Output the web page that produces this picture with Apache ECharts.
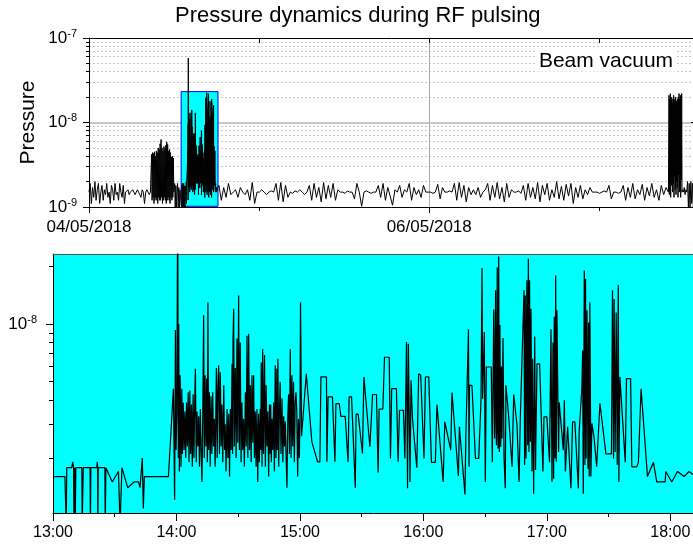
<!DOCTYPE html>
<html><head><meta charset="utf-8">
<script src="https://cdn.jsdelivr.net/npm/echarts@6/dist/echarts.min.js"></script>
<style>html,body{margin:0;padding:0;background:#fff}#c{width:693px;height:545px}</style>
</head><body><div id="c"></div>
<script>
// ---------------- DATA (pressure values in units of 1e-9) ----------------
const titleText = 'Pressure dynamics during RF pulsing';
const panelNote = 'Beam vacuum';
const yName = 'Pressure';

// overview axis ticks
const overviewTickDays = ['2018-05-04T00:00', '2018-05-05T00:00', '2018-05-06T00:00', '2018-05-07T00:00'];
const overviewLabelDays = ['2018-05-04T00:00', '2018-05-06T00:00'];
const overviewMinorDays = ['2018-05-05T00:00', '2018-05-07T00:00'];
const overviewRange = ['2018-05-04T00:00', '2018-05-07T13:30'];
const overviewMajorNano = [1, 10, 100];
const overviewMinorNano = [2, 3, 4, 5, 6, 7, 8, 9, 20, 30, 40, 50, 60, 70, 80, 90];
const overviewYRangeNano = [1, 100.001];

// zoom (RF pulsing window) axis ticks
const zoomDay = '2018-05-04';
const zoomHourTicks = ['13:00', '14:00', '15:00', '16:00', '17:00', '18:00'];
const zoomHalfTicks = ['13:30', '14:30', '15:30', '16:30', '17:30'];
const zoomRange = ['13:00', '18:12'];
const zoomMajorNano = [10];
const zoomMinorNano = [2, 3, 4, 5, 6, 7, 8, 9, 20];
const zoomYRangeNano = [1.033, 23.2];

// overview logger segments (evenly sampled between the span times)
const segA1Span = ['2018-05-04T00:00', '2018-05-04T08:40'];
const segA1 = [1.5,1.9,1.1,1.7,1.3,2.0,1.2,1.6,1.9,1.1,1.5,1.8,1.2,1.6,1.4,1.9,1.3,1.5,1.1,1.8,1.6,1.2,1.9,1.4,1.5,1.2,1.9,1.5,1.3,1.8,1.1,
  1.5,1.5,1.6,1.4,1.5,1.5,1.6,1.5,1.4,1.5,1.6,1.5,1.5,1.3,1.6,1.5,1.1,1.5,1.6,1.5,1.4,1.5];
const segA2Span = ['2018-05-04T08:50', '2018-05-04T11:58'];
const segA2 = [4.2,1.2,4.4,1.3,4.3,1.1,4.5,1.2,4.0,1.3,4.6,1.2,4.4,1.1,5.0,1.3,4.8,1.2,5.6,1.2,6.3,1.3,5.0,1.1,4.6,1.2,5.2,1.3,4.9,1.2,5.4,1.1,5.9,1.2,5.5,1.3,4.6,1.2,4.8,1.1,4.4,1.3,3.9,1.2,4.0,1.3,3.8,1.5];
const segA3Span = ['2018-05-04T12:00', '2018-05-04T12:55'];
const segA3 = [1.5,1.9,1.0,1.8,1.0,1.6,1.9,1.0,1.7,1.0,1.6,1.6];
const segC1Span = ['2018-05-04T18:20', '2018-05-07T09:45'];
const segC1 = [1.8,1.2,1.7,1.3,1.9,1.4,
  1.5,1.6,1.3,1.7,1.5,1.4,1.6,1.2,1.95,1.1,
  1.5,1.5,1.6,1.5,1.4,1.5,1.55,1.5,
  1.9,1.2,1.95,1.15,1.8,1.3,
  1.5,1.45,1.55,1.5,1.6,1.5,1.4,1.5,
  1.8,1.2,1.9,1.3,1.7,1.15,1.95,1.25,1.8,1.3,1.9,1.2,1.6,
  1.5,1.5,1.45,1.55,1.5,1.5,
  1.25,1.9,1.5,1.02,
  1.5,1.55,1.5,1.45,1.5,1.5,
  1.8,1.3,1.9,1.2,1.7,1.35,1.05,1.6,
  1.5,1.8,1.3,1.6,1.5,1.9,1.2,1.7,1.4,1.6,1.3,1.8,1.5,
  1.5,1.5,1.45,1.5,
  1.85,1.25,1.7,1.5,
  1.5,1.55,1.5,
  1.9,1.2,1.95,1.3,1.8,1.15,1.7,1.4,
  1.6,1.4,1.7,1.3,1.5,1.6,
  1.9,1.2,1.8,1.3,1.95,1.25,1.7,1.15,1.9,1.3,1.6,
  1.5,1.5,1.55,1.45,
  1.8,1.2,1.9,1.3,1.7,1.25,1.95,1.15,1.8,1.4,1.9,1.2,1.6,1.3,2.0,1.25,1.75,1.2,1.85,1.35,1.9,1.1,1.7,1.3,1.8,1.25,1.6,1.4,1.7,1.5,
  1.5,1.5,1.45,1.5,1.55,1.5,1.8,1.25,1.5,1.5,1.45,1.5,
  1.8,1.2,1.7,1.3,1.9,1.25,1.6,1.4,1.85,1.2,1.7,1.35,1.9,1.3,1.6,1.2,1.8,1.4,1.7,1.5];
const segC2Span = ['2018-05-07T09:50', '2018-05-07T11:40'];
const segC2 = [21,1.4,19,2.2,22,1.3,18,1.8,20,2.5,17,1.5,19,1.9,21,1.3,18,2.3,19,1.6,20,1.4,18,2.0,17,1.7,19,1.3,20,2.4,22,1.5,19,1.8,21,1.3,18,2.1,22,1.5];
const segC3Span = ['2018-05-07T11:45', '2018-05-07T13:30'];
const segC3 = [1.6,1.5,1.7,1.4,1.6,1.5,2.0,1.0,1.9,1.0,2.0,1.1,1.9,1.0,1.8,1.2];

// RF pulsing window readings: [minutes after 13:00, pressure x1e-9]
const zoomReadings = [
[0,1.60],[5.8,1.60],[6.4,0.9],[6.7,1.78],[9.1,1.78],[9.6,1.91],[10.0,1.78],[10.2,0.9],[10.5,1.78],[10.8,0.9],[11.1,1.78],
[14.0,1.78],[14.2,0.9],[14.5,0.9],[14.7,1.78],[18.0,1.78],[18.2,0.9],[18.4,1.78],[21.3,1.78],[21.5,1.91],[21.7,1.78],[21.8,0.9],[22.0,1.78],
[25.2,1.78],[25.4,0.9],[25.7,1.78],[28.8,1.50],[31.8,1.70],[32.6,0.9],[33.2,0.9],[33.5,1.78],[36.3,1.40],[39.4,1.50],[41.6,1.50],[42.3,1.40],
[43.4,2.0],[43.9,1.09],[44.4,1.60],[56.1,1.60],[58.5,4.6],[59.1,1.21],
[59.5,9.3],[59.8,2.2],[60.2,3.4],[60.6,58],[60.9,2.0],[61.1,10.0],[61.4,1.7],[61.8,5.4],[62.2,1.8],[62.6,4.6],[62.9,2.1],[63.3,3.9],[63.7,2.2],
[64.1,3.5],[64.5,2.0],[64.9,3.9],[65.3,2.3],[65.7,4.4],[66.1,1.9],[66.5,4.5],[66.9,2.1],[67.3,3.8],[67.7,1.8],[68.1,4.3],[68.5,2.0],[68.9,4.1],
[69.2,5.85],[69.6,1.9],[70.0,3.5],[70.4,2.3],[70.8,3.3],[71.2,1.8],[71.6,3.6],[72.0,2.2],[72.4,1.5],[72.8,3.4],[73.2,11.1],[73.5,2.0],[73.9,5.4],
[74.3,2.3],[74.7,5.2],[75.0,1.9],[75.3,13.0],[75.6,2.2],[76.0,4.4],[76.4,1.8],[76.8,4.2],[77.2,2.1],[77.6,4.4],[78.0,2.3],[78.4,3.2],[78.8,1.8],
[79.1,3.2],[79.4,5.9],[79.8,2.0],[80.1,4.5],[80.5,6.1],[80.9,2.1],[81.3,5.6],[81.7,2.3],[82.1,3.8],[82.5,1.9],[83.0,4.8],[83.4,2.2],[83.7,3.0],
[84.1,1.7],[84.6,3.6],[85.0,2.0],[85.4,3.4],[85.8,1.6],[86.2,3.6],[86.6,2.2],[87.0,6.2],[87.3,2.1],[87.5,8.4],[87.8,12.0],[88.1,2.3],[88.6,5.9],
[89.0,2.0],[89.4,8.4],[89.8,2.4],[90.2,14.1],[90.6,2.2],[91.0,8.0],[91.4,1.9],[91.8,3.9],[92.2,2.2],[92.6,3.2],[93.0,1.8],[93.5,4.4],[93.9,2.3],
[94.3,8.7],[94.7,2.0],[95.1,8.9],[95.5,2.2],[95.9,4.8],[96.3,1.9],[96.7,5.4],[97.1,2.4],[97.5,5.4],[97.9,2.0],[98.3,3.5],[98.7,1.8],[99.1,3.6],
[99.5,1.5],[99.9,3.4],[100.3,1.9],[100.7,3.6],[101.0,2.2],[101.2,6.3],[101.6,1.8],[101.9,7.4],[102.3,2.1],[102.8,6.9],[103.2,1.8],[103.6,4.8],
[104.0,2.3],[104.4,3.5],[104.8,1.6],[105.2,3.8],[105.6,2.1],[105.8,3.8],[106.1,1.9],[106.4,3.2],[106.8,2.2],[107.2,3.9],[107.6,1.7],[108.0,6.1],
[108.4,2.0],[108.8,5.85],[109.0,2.2],[109.3,6.6],[109.7,1.8],[110.0,3.4],[110.4,5.0],[110.8,2.1],[111.3,4.1],[111.7,1.9],[112.1,3.3],[112.5,2.3],
[112.9,3.1],[113.3,2.0],[113.7,1.4],[114.1,3.3],[114.5,4.3],[114.9,2.1],[115.3,7.4],[115.7,2.0],[116.1,5.4],[116.5,2.3],[116.9,5.0],[117.3,1.9],
[117.7,3.9],[118.1,4.4],[118.5,3.4],[118.9,1.6],[119.3,3.2],[119.7,2.0],[120.0,3.0],
[120.3,13.0],[120.8,2.6],[123.1,5.5],[123.7,5.5],[125.8,2.43],[126.5,2.38],[128.6,1.91],[129.7,1.91],[130.2,5.3],[132.9,5.3],[133.1,1.91],
[133.7,4.17],[135.8,4.17],[137.0,1.91],[137.5,3.84],[139.1,3.84],[139.9,3.3],[142.0,3.3],[143.4,1.91],[143.9,4.17],[145.1,4.17],[146.9,1.40],
[147.3,3.39],[148.3,3.39],[150.4,2.11],[151.1,5.3],[154.0,2.29],[155.3,4.29],[157.2,4.29],[158.0,1.68],[158.5,3.6],[160.3,3.6],[161.1,6.71],
[163.4,6.71],[164.0,1.99],[164.6,4.6],[166.9,4.6],[167.7,1.91],[168.4,3.55],[170.3,3.55],[171.0,1.99],[171.8,8.06],[172.3,1.39],[172.7,7.9],
[173.5,1.5],[174.0,5.09],[174.7,3.21],[176.8,1.78],[177.7,5.51],[178.7,5.4],[180.3,1.99],[181.0,5.3],[182.6,5.3],[183.9,1.90],[185.8,1.90],
[186.6,3.8],[189.6,1.50],[190.4,3.09],[191.2,3.09],[193.3,2.20],[193.9,4.39],[194.6,4.39],[197.0,1.61],[197.5,2.91],[200.2,1.29],[200.6,2.48],
[201.9,9.38],[202.2,1.80],[202.4,4.79],[203.6,4.79],[205.3,1.99],[206.9,1.99],[208.0,4.0],[208.5,19.6],[208.8,4.08],[209.6,9.08],[210.1,1.50],
[210.6,5.97],[213.0,5.97],[213.5,1.90],[214.2,11.9],[214.6,2.53],[215.1,15.0],[215.3,3.0],[215.5,2.33],[215.9,19.8],[216.1,2.8],[216.3,2.24],
[216.6,22.5],[216.9,2.15],[217.2,9.9],[217.6,2.29],[217.9,6.0],[218.2,2.53],[218.7,8.45],[219.2,1.99],[219.8,1.39],[220.1,4.79],[221.4,3.34],
[223.1,1.80],[223.9,4.29],[225.5,2.97],[226.5,1.50],[227.1,3.21],[227.9,3.21],[228.9,15.0],[229.2,1.84],[229.5,14.1],[229.7,2.5],[229.9,1.99],
[230.1,9.0],[230.3,16.9],[230.7,2.33],[231.0,21.9],[231.3,2.15],[231.6,16.9],[232.0,2.43],[232.3,12.0],[232.6,3.0],[232.8,1.70],[233.1,6.6],
[233.6,1.30],[234.1,8.6],[234.5,1.73],[235.2,6.19],[236.5,6.19],[238.1,1.70],[238.6,3.28],[240.0,3.28],[241.3,1.90],[242.0,9.38],[242.5,1.50],
[243.0,8.0],[243.3,1.56],[243.6,10.9],[244.0,1.99],[244.3,17.9],[244.6,1.91],[244.9,11.8],[245.2,5.85],[245.7,2.15],[246.0,3.9],[248.0,2.2],
[248.5,4.0],[249.0,1.70],[250.1,2.91],[251.7,1.39],[252.5,3.09],[253.6,3.09],[255.3,1.39],[255.7,2.73],[256.2,2.73],[257.0,4.6],[257.4,7.3],
[257.7,1.30],[258.2,19.0],[258.5,1.84],[258.8,17.2],[259.1,1.99],[259.5,11.8],[260.0,1.76],[260.3,10.2],[260.6,1.60],[260.9,13.0],[261.4,1.60],
[261.9,3.03],[263.0,2.53],[264.2,1.80],[265.8,3.86],[268.7,2.10],[271.4,2.10],[271.9,15.0],[272.4,1.99],[272.7,13.5],[273.2,2.15],[273.7,11.5],
[274.2,1.84],[274.7,16.0],[275.0,1.50],[275.5,5.30],[276.3,5.30],[278.1,1.90],[278.7,5.19],[280.7,5.19],[281.3,1.80],[283.7,1.80],[284.5,1.90],
[285.8,4.6],[286.5,4.6],[288.9,1.60],[291.8,1.90],[293.4,1.50],[297.5,1.50],[297.8,1.70],[300.7,1.50],[303.5,1.70],[306.7,1.60],[309.1,1.70],
[310.7,1.65],[312.5,1.62]
];

// ---------------- BUILD ----------------
const FONT = '"Liberation Sans", Arial, sans-serif';
const NANO = 1e-9;
const utc = s => new Date(s + ':00Z').getTime();
const clock = hm => utc(zoomDay + 'T' + hm);
const pad = n => (n < 10 ? '0' : '') + n;
const winStart = clock(zoomRange[0]);
const winEnd = clock(zoomRange[1]);

function expandSegment(span, vals) {
  const a = utc(span[0]), b = utc(span[1]);
  return vals.map((v, i) => [a + (b - a) * i / (vals.length - 1), v * NANO]);
}
const zoomData = zoomReadings.map(r => [winStart + r[0] * 60000, r[1] * NANO]);
const overviewData = [].concat(
  expandSegment(segA1Span, segA1), expandSegment(segA2Span, segA2), expandSegment(segA3Span, segA3),
  zoomData,
  expandSegment(segC1Span, segC1), expandSegment(segC2Span, segC2), expandSegment(segC3Span, segC3));

const nano = arr => arr.map(v => v * NANO);
const powLabel = v => '10{sup|' + Math.round(Math.log10(v)) + '}';
const dayLabel = v => { const d = new Date(v); return pad(d.getUTCDate()) + '/' + pad(d.getUTCMonth() + 1) + '/' + d.getUTCFullYear(); };
const hourLabel = v => { const d = new Date(v); return pad(d.getUTCHours()) + ':' + pad(d.getUTCMinutes()); };

const black = '#000';
const supRich = { sup: { fontSize: 11, lineHeight: 10, verticalAlign: 'top', fontFamily: FONT, color: black } };
const noLine = { show: false };
const xMin = utc(overviewRange[0]), xMax = utc(overviewRange[1]);
// split lines follow ticks: first (axis start) and last (axis end) are hidden
const overviewGridTicks = overviewLabelDays.map(utc).concat([xMax]);

const option = {
  animation: false,
  backgroundColor: '#fff',
  title: { text: titleText, left: 175, top: 5, padding: 0,
    textStyle: { fontSize: 22, fontWeight: 'normal', fontFamily: FONT, color: black } },
  graphic: [{ type: 'text', x: 606, y: 61, z: 10, style: { text: panelNote, align: 'center', verticalAlign: 'middle',
    textAlign: 'center', textVerticalAlign: 'middle', font: '21px ' + FONT, fill: black,
    backgroundColor: '#fff', padding: [0, 3, 0, 3] } }],
  grid: [
    { left: 89, top: 38, width: 606, height: 169, outerBoundsMode: 'none', containLabel: false },
    { left: 53, top: 254, width: 642, height: 259, outerBoundsMode: 'none', containLabel: false,
      show: true, backgroundColor: '#00ffff', borderWidth: 0 }
  ],
  xAxis: [
    { type: 'value', gridIndex: 0, position: 'bottom', min: xMin, max: xMax,
      axisLine: { show: true, lineStyle: { color: black, width: 1 } },
      axisTick: { show: true, length: 6, customValues: overviewGridTicks, lineStyle: { color: black } },
      axisLabel: { customValues: overviewLabelDays.map(utc), formatter: dayLabel, margin: 12, fontSize: 17, fontFamily: FONT, color: black },
      splitLine: { show: true, showMinLine: false, showMaxLine: false, lineStyle: { color: '#ababab', width: 1 } } },
    { type: 'value', gridIndex: 0, position: 'bottom', min: xMin, max: xMax,
      axisLine: noLine, axisLabel: { show: false }, splitLine: noLine,
      axisTick: { show: true, length: 4, customValues: overviewMinorDays.map(utc), lineStyle: { color: black } } },
    { type: 'value', gridIndex: 0, position: 'top', min: xMin, max: xMax,
      axisLine: { show: true, lineStyle: { color: black, width: 1 } }, axisLabel: { show: false }, splitLine: noLine,
      axisTick: { show: true, inside: true, length: 5, customValues: overviewTickDays.map(utc), lineStyle: { color: black } } },
    { type: 'value', gridIndex: 1, position: 'bottom', min: winStart, max: winEnd,
      axisLine: { show: true, lineStyle: { color: black, width: 1 } },
      axisTick: { show: true, length: 8, customValues: zoomHourTicks.map(clock), lineStyle: { color: black } },
      axisLabel: { customValues: zoomHourTicks.map(clock), formatter: hourLabel, margin: 12, fontSize: 16, fontFamily: FONT, color: black },
      splitLine: noLine },
    { type: 'value', gridIndex: 1, position: 'bottom', min: winStart, max: winEnd,
      axisLine: noLine, axisLabel: { show: false }, splitLine: noLine,
      axisTick: { show: true, length: 4, customValues: zoomHalfTicks.map(clock), lineStyle: { color: black } } },
    { type: 'value', gridIndex: 1, position: 'top', min: winStart, max: winEnd,
      axisLine: { show: true, lineStyle: { color: '#555', width: 1 } }, axisTick: noLine, axisLabel: { show: false }, splitLine: noLine }
  ],
  yAxis: [
    { type: 'log', gridIndex: 0, position: 'left', min: overviewYRangeNano[0] * NANO, max: overviewYRangeNano[1] * NANO,
      name: yName, nameLocation: 'middle', nameGap: 50, nameMoveOverlap: false,
      nameTextStyle: { fontSize: 21, fontFamily: FONT, color: black },
      axisLine: { show: true, lineStyle: { color: black, width: 1 } },
      axisTick: { show: true, length: 6, customValues: nano(overviewMajorNano), lineStyle: { color: black } },
      axisLabel: { customValues: nano(overviewMajorNano), formatter: powLabel, margin: 12, fontSize: 17, lineHeight: 20,
        fontFamily: FONT, color: black, rich: supRich },
      splitLine: { show: true, showMinLine: false, showMaxLine: false, lineStyle: { color: '#b4b4b4', width: 1.5 } } },
    { type: 'log', gridIndex: 0, position: 'left', min: overviewYRangeNano[0] * NANO, max: overviewYRangeNano[1] * NANO,
      axisLine: noLine, axisLabel: { show: false },
      axisTick: { show: true, length: 3, customValues: nano(overviewMinorNano), lineStyle: { color: black } },
      splitLine: { show: true, lineStyle: { color: '#c8c8c8', width: 1, type: [2, 2] } } },
    { type: 'log', gridIndex: 0, position: 'right', min: overviewYRangeNano[0] * NANO, max: overviewYRangeNano[1] * NANO,
      axisLine: { show: true, lineStyle: { color: black, width: 1 } }, axisLabel: { show: false }, splitLine: noLine,
      axisTick: { show: true, inside: true, length: 4, customValues: nano(overviewMajorNano), lineStyle: { color: black } } },
    { type: 'log', gridIndex: 1, position: 'left', min: zoomYRangeNano[0] * NANO, max: zoomYRangeNano[1] * NANO,
      axisLine: { show: true, lineStyle: { color: black, width: 1 } },
      axisTick: { show: true, length: 7, customValues: nano(zoomMajorNano), lineStyle: { color: black } },
      axisLabel: { customValues: nano(zoomMajorNano), formatter: powLabel, margin: 16, fontSize: 17, lineHeight: 20,
        fontFamily: FONT, color: black, rich: supRich },
      splitLine: noLine },
    { type: 'log', gridIndex: 1, position: 'left', min: zoomYRangeNano[0] * NANO, max: zoomYRangeNano[1] * NANO,
      axisLine: noLine, axisLabel: { show: false }, splitLine: noLine,
      axisTick: { show: true, length: 4, customValues: nano(zoomMinorNano), lineStyle: { color: black } } }
  ],
  series: [
    { type: 'line', xAxisIndex: 0, yAxisIndex: 0, data: overviewData, showSymbol: false, symbol: 'none',
      lineStyle: { color: black, width: 1 }, itemStyle: { color: black }, silent: true, z: 3,
      markArea: { silent: true, itemStyle: { color: '#00ffff', borderColor: '#0000ff', borderWidth: 1, opacity: 1 },
        data: [[{ xAxis: winStart, yAxis: 1.02 * NANO }, { xAxis: winEnd, yAxis: zoomYRangeNano[1] * NANO }]] } },
    { type: 'line', xAxisIndex: 3, yAxisIndex: 3, data: zoomData, showSymbol: false, symbol: 'none',
      lineStyle: { color: black, width: 1.2 }, itemStyle: { color: black }, silent: true }
  ]
};
const chart = echarts.init(document.getElementById('c'), null, { renderer: 'canvas' });
chart.setOption(option);
</script></body></html>
